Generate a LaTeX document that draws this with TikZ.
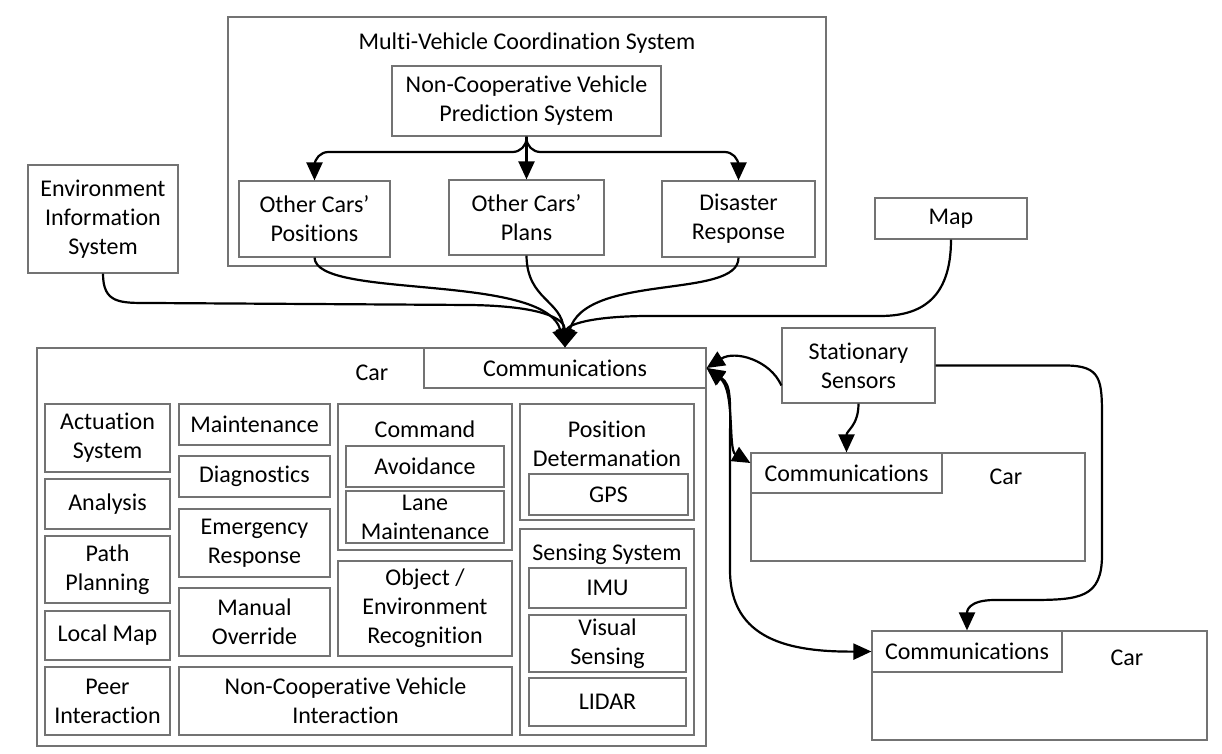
\documentclass[tikz,border=0pt]{standalone}
\usepackage{fontspec}
\setmainfont{Carlito}[Ligatures=NoCommon]
\usetikzlibrary{arrows.meta}
\tikzstyle{box}=[
    draw = black!55,
    line width = 0.6pt,
    inner sep = 0pt,
    align = center
]
\tikzstyle{lbl}=[inner sep = 0pt, align = center]

\begin{document}
\begin{tikzpicture}[x=0.5pt, y=-0.5pt, font=\fontsize{12}{14.5}\selectfont,
    arr/.style = {-{Triangle[length=9pt,width=8pt]}, line width=1.1pt},
    dbl/.style = {{Triangle[length=9pt,width=8pt]}-{Triangle[length=9pt,width=8pt]}, line width=1.1pt},
    col1/.style = {box, minimum width=62.5pt},
    col2/.style = {box, minimum width=75.5pt},
    col3/.style = {box, minimum width=87pt},
    sub/.style = {box, minimum width=79pt}]
        \useasboundingbox (0,0) rectangle (1222,754);

        % coordination system
        \node[box, minimum width=299pt, minimum height=124.5pt] (mvcs) at (527,141.5) {};
        \node[lbl] (mvcslbl) at (527,43) {Multi-Vehicle Coordination System};
        \node[box, minimum width=134.5pt, minimum height=35pt] (pred) at (526.5,101) {Non-Cooperative Vehicle\\Prediction System};
        \node[box, minimum width=75.5pt, minimum height=38pt] (pos) at (314.5,219) {Other Cars'\\Positions};
        \node[box, minimum width=77.5pt, minimum height=37.5pt] (plans) at (526.5,217.5) {Other Cars'\\Plans};
        \node[box, minimum width=76.5pt, minimum height=38pt] (dis) at (738.5,219) {Disaster\\Response};
        \coordinate (fork) at (526.5,152);

        \node[box, minimum width=75pt, minimum height=54pt] (eis) at (103,219) {Environment\\Information\\System};
        \node[box, minimum width=76pt, minimum height=20.5pt] (map) at (951,218.5) {Map};

        % main car
        \node[box, minimum width=334.5pt, minimum height=199pt] (car) at (371.5,547) {};
        \node[lbl] (carlbl) at (372,373) {Car};
        \node[box, minimum width=141pt, minimum height=20pt] (comms) at (565,368) {Communications};

        \node[col1, minimum height=34pt] (act) at (107.5,438) {Actuation\\System};
        \node[col1, minimum height=25pt] (ana) at (107.5,504) {Analysis};
        \node[col1, minimum height=33.5pt] (path) at (107.5,569.5) {Path\\Planning};
        \node[col1, minimum height=24.5pt] (lmap) at (107.5,635.5) {Local Map};
        \node[col1, minimum height=34pt] (peer) at (107.5,701) {Peer\\Interaction};

        \node[col2, minimum height=20.5pt] (maint) at (254.5,424.5) {Maintenance};
        \node[col2, minimum height=20.5pt] (diag) at (254.5,476.5) {Diagnostics};
        \node[col2, minimum height=34pt] (emerg) at (254.5,543) {Emergency\\Response};
        \node[col2, minimum height=34pt] (manual) at (254.5,622) {Manual\\Override};
        \node[box, minimum width=166.5pt, minimum height=34pt] (ncvi) at (345.5,701) {Non-Cooperative Vehicle\\Interaction};

        \node[col3, minimum height=73pt] (cmd) at (425,477) {};
        \node[lbl] (cmdlbl) at (425,429) {Command};
        \node[sub, minimum height=20.5pt] (avoid) at (425,466.5) {Avoidance};
        \node[sub, minimum height=26pt] (lane) at (425,517) {Lane\\Maintenance};
        \node[col3, minimum height=47.5pt] (obj) at (425,608.5) {Object /\\Environment\\Recognition};

        \node[col3, minimum height=58pt] (posdet) at (607,462) {};
        \node[lbl] (posdetlbl) at (607,443.5) {Position\\Determanation};
        \node[sub, minimum width=79.5pt, minimum height=20.5pt] (gps) at (608.5,494.5) {GPS};
        \node[col3, minimum height=103pt] (sens) at (607,632) {};
        \node[lbl] (senslbl) at (607,554) {Sensing System};
        \node[sub, minimum width=78.5pt, minimum height=20pt] (imu) at (607.5,588) {IMU};
        \node[sub, minimum width=78.5pt, minimum height=28.5pt] (vis) at (607.5,643.5) {Visual\\Sensing};
        \node[sub, minimum width=78.5pt, minimum height=24pt] (lidar) at (607.5,702) {LIDAR};

        % other cars
        \node[box, minimum width=76.5pt, minimum height=37.5pt] (sensors) at (858.5,365.5) {Stationary\\Sensors};
        \node[box, minimum width=167pt, minimum height=54pt] (car2) at (918,507) {};
        \node[box, minimum width=95.5pt, minimum height=20pt] (c2comms) at (846.5,473) {Communications};
        \node[lbl] (car2lbl) at (1006,477) {Car};
        \node[box, minimum width=167.5pt, minimum height=54.5pt] (car3) at (1039.5,685.5) {};
        \node[box, minimum width=95pt, minimum height=20.5pt] (c3comms) at (967,651.5) {Communications};
        \node[lbl] (car3lbl) at (1127,658) {Car};

        % prediction fan-out
        \draw[arr, rounded corners=7pt] (pred.south) |- (pos.north |- fork) -- (pos.north);
        \draw[arr] (pred.south) -- (plans.north);
        \draw[arr, rounded corners=7pt] (pred.south) |- (dis.north |- fork) -- (dis.north);

        % into the car
        \draw[arr] (eis.south) .. controls +(0,30) and +(-30,0) .. (150,303) -- (470,305) .. controls (540,306) and (565,318) .. (comms.north);
        \draw[arr] (pos.south) .. controls (316,300) and (545,272) .. (comms.north);
        \draw[arr] (plans.south) .. controls (527,300) and (562,300) .. (comms.north);
        \draw[arr] (dis.south) .. controls (739,300) and (585,272) .. (comms.north);
        \draw[arr] (map.south) .. controls +(0,60) and +(40,0) .. (880,316) -- (650,316) .. controls (590,316) and (567,325) .. (comms.north);

        % car to car
        \draw[arr] ([yshift=-10pt]sensors.west) .. controls (770,360) and (735,350) .. (comms.east);
        \draw[dbl] (comms.east) .. controls (735,390) and (728,450) .. ([yshift=5pt]c2comms.west);
        \draw[dbl] (comms.east) .. controls (732,385) and (730,400) .. (730,450) -- (730,570) .. controls (730,640) and (790,652) .. (c3comms.west);
        \draw[arr] (sensors.south) .. controls +(0,22) and +(0,-22) .. (c2comms.north);
        \draw[arr] (sensors.east) -- (1065,365.5) .. controls (1102,365.5) and (1102,380) .. (1102,420) -- (1102,555) .. controls (1102,598) and (1080,600) .. (1030,600) -- (995,600) .. controls (967,600) and (967,612) .. (c3comms.north);

    \end{tikzpicture}
\end{document}
